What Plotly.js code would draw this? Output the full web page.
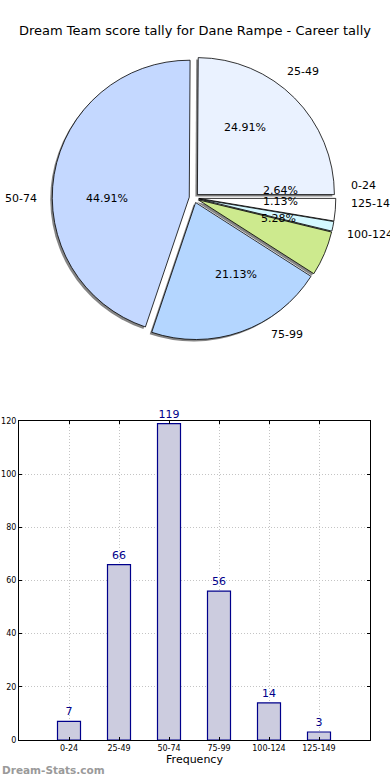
<!DOCTYPE html>
<html><head><meta charset="utf-8">
<script src="https://cdn.plot.ly/plotly-3.0.1.min.js"></script>
<style>html,body{margin:0;padding:0;background:#fff}#chart{width:390px;height:780px}</style>
</head><body><div id="chart"></div>
<script>
const categories = ['0-24','25-49','50-74','75-99','100-124','125-149'];
const frequency = [7, 66, 119, 56, 14, 3];
const sliceColors = ['#ffffff','#eaf2ff','#c4d8ff','#b4d6ff','#cdea8e','#d4f8ff'];
const chartTitle = 'Dream Team score tally for Dane Rampe - Career tally';
const xTitle = 'Frequency';
const watermark = 'Dream-Stats.com';

const W = 390, H = 780;
const FONT = 'DejaVu Sans, sans-serif';
const pieCx = 194, pieCy = 198, pieR = 137, pull = 0.035;
const side = 2 * pieR * (1 + pull);
function dom(cx, cy) {
  return {x: [(cx - side/2)/W, (cx + side/2)/W], y: [1 - (cy + side/2)/H, 1 - (cy - side/2)/H]};
}
const total = frequency.reduce((a, b) => a + b, 0);

const shadow = {
  type: 'pie', values: frequency, labels: categories, sort: false,
  direction: 'counterclockwise', rotation: 90,
  marker: {colors: categories.map(() => '#858585'), line: {width: 0}},
  pull: pull, textinfo: 'none', hoverinfo: 'skip', showlegend: false,
  domain: dom(pieCx - 2, pieCy + 2)
};
const pie = {
  type: 'pie', values: frequency, labels: categories, sort: false,
  direction: 'counterclockwise', rotation: 90,
  marker: {colors: sliceColors, line: {color: '#000', width: 0.8}},
  pull: pull, textinfo: 'none', hoverinfo: 'skip', showlegend: false,
  domain: dom(pieCx, pieCy)
};
const bars = {
  type: 'bar', x: categories, y: frequency, width: 0.46,
  marker: {color: '#ccccdf', line: {color: '#00008b', width: 1.2}},
  text: frequency.map(String), textposition: 'outside', cliponaxis: false,
  textfont: {family: FONT, size: 11, color: '#00008b'},
  hoverinfo: 'skip', showlegend: false, xaxis: 'x', yaxis: 'y'
};

const annotations = [];
let cum = 0;
frequency.forEach((v, i) => {
  const mid = 2 * Math.PI * (cum + v / 2) / total;
  cum += v;
  const c = Math.cos(mid), s = Math.sin(mid);
  const ax = pieCx + pull * pieR * c, ay = pieCy - pull * pieR * s;
  const px = ax + 0.6 * pieR * c, py = ay - 0.6 * pieR * s;
  annotations.push({xref: 'paper', yref: 'paper', x: px / W, y: 1 - py / H,
    text: (v / total * 100).toFixed(2) + '%', showarrow: false,
    xanchor: 'center', yanchor: 'middle', font: {family: FONT, size: 11, color: '#000'}});
  const lx = ax + 1.1 * pieR * c, ly = ay - 1.1 * pieR * s;
  annotations.push({xref: 'paper', yref: 'paper', x: lx / W, y: 1 - ly / H,
    text: categories[i], showarrow: false,
    xanchor: c > 0 ? 'left' : 'right', yanchor: 'middle', font: {family: FONT, size: 11, color: '#000'}});
});
annotations.push({xref: 'paper', yref: 'paper', x: 0, y: 1 - 770 / H, text: '<b>' + watermark + '</b>',
  showarrow: false, xanchor: 'left', yanchor: 'middle', font: {family: FONT, size: 10.5, color: '#9a9a9a'}});

const gridStyle = {showgrid: true, gridcolor: '#c4c4c4', griddash: '1px,2px', gridwidth: 1};
const layout = {
  width: W, height: H, margin: {l: 0, r: 0, t: 0, b: 0},
  paper_bgcolor: '#fff', plot_bgcolor: '#fff',
  font: {family: FONT, color: '#000'},
  title: {text: chartTitle, x: 0.5, xanchor: 'center', y: 1 - 30 / H, yanchor: 'middle',
    font: {family: FONT, size: 13, color: '#000'}},
  xaxis: Object.assign({domain: [19 / W, 370 / W], range: [-1, 6.02], type: 'category',
    showline: true, linecolor: '#000', linewidth: 1, mirror: 'ticks',
    ticks: 'inside', ticklen: 3, tickcolor: '#000',
    tickfont: {family: FONT, size: 8, color: '#000'},
    title: {text: xTitle, font: {family: FONT, size: 11, color: '#000'}, standoff: 3},
    zeroline: false, fixedrange: true}, gridStyle),
  yaxis: Object.assign({domain: [1 - 740 / H, 1 - 421 / H], range: [0, 120], dtick: 20,
    showline: true, linecolor: '#000', linewidth: 1, mirror: 'ticks',
    ticks: 'inside', ticklen: 3, tickcolor: '#000',
    tickfont: {family: FONT, size: 8, color: '#000'},
    zeroline: false, fixedrange: true}, gridStyle),
  annotations: annotations,
  showlegend: false
};
Plotly.newPlot('chart', [shadow, pie, bars], layout, {staticPlot: true, displayModeBar: false});
</script></body></html>
